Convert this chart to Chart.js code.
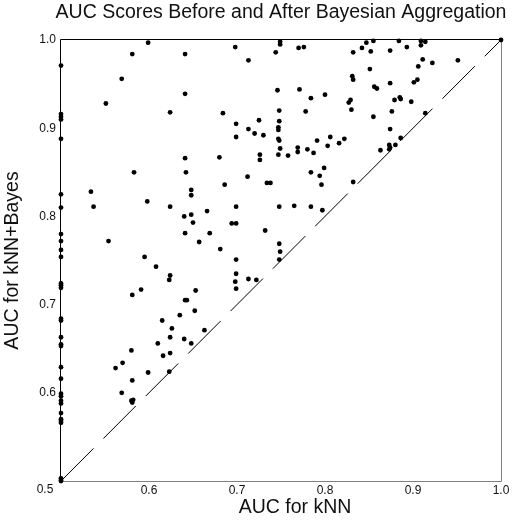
<!DOCTYPE html>
<html>
<head>
<meta charset="utf-8">
<title>AUC Scores Before and After Bayesian Aggregation</title>
<script src="https://cdn.jsdelivr.net/npm/chart.js@4.4.1/dist/chart.umd.min.js"></script>
<style>
    html, body { margin: 0; padding: 0; background: #fff; }
    #wrap { width: 513px; height: 529px; }
</style>
</head>
<body>
<div id="wrap"><canvas id="aucChart" width="513" height="529"></canvas></div>
<script>
var chartTitle = "AUC Scores Before and After Bayesian Aggregation";
var xTitle = "AUC for kNN";
var yTitle = "AUC for kNN+Bayes";

// AUC for kNN (x) and AUC for kNN+Bayes (y), one entry per dataset
var knnAuc = [
    // on the 0.5 floor
    0.5, 0.5, 0.5, 0.5, 0.5, 0.5, 0.5, 0.5, 0.5, 0.5, 0.5, 0.5, 0.5, 0.5, 0.5, 0.5,
    0.5, 0.5, 0.5, 0.5, 0.5, 0.5, 0.5, 0.5, 0.5, 0.5, 0.5, 0.5, 0.5, 0.5, 0.5, 0.5,
    // upper left
    0.599, 0.581, 0.641, 0.569, 0.641, 0.551, 0.624, 0.641, 0.583, 0.642, 0.648,
    // upper middle
    0.698, 0.749, 0.749, 0.744, 0.770, 0.776, 0.713, 0.746, 0.771, 0.784, 0.800,
    0.684, 0.748, 0.778, 0.725, 0.748, 0.699, 0.713, 0.747, 0.747, 0.720, 0.730,
    0.699, 0.747, 0.748, 0.791, 0.806, 0.822, 0.816, 0.803, 0.769, 0.769, 0.780,
    0.787, 0.749, 0.747, 0.758, 0.726, 0.726, 0.680, 0.784, 0.799, 0.794, 0.712,
    0.734, 0.738, 0.796, 0.686,
    // upper right
    1.0, 0.832, 0.842, 0.847, 0.855, 0.852, 0.874, 0.884, 0.893, 0.909, 0.914,
    0.909, 0.911, 0.922, 0.951, 0.906, 0.851, 0.831, 0.832, 0.905, 0.901, 0.874,
    0.856, 0.859, 0.829, 0.827, 0.830, 0.879, 0.885, 0.886, 0.898, 0.876, 0.855,
    0.874, 0.886, 0.880, 0.873, 0.873, 0.874, 0.863, 0.914, 0.832,
    // middle left
    0.534, 0.537, 0.554, 0.598, 0.624, 0.648, 0.640, 0.648, 0.650, 0.641, 0.657,
    0.595, 0.608, 0.624, 0.623, 0.591, 0.581, 0.653, 0.641, 0.643, 0.635, 0.652,
    0.615, 0.626, 0.624, 0.640,
    // centre
    0.699, 0.748, 0.765, 0.784, 0.797, 0.666, 0.694, 0.699, 0.732, 0.669, 0.681,
    0.748, 0.749, 0.748, 0.699, 0.699, 0.698, 0.699, 0.713, 0.722, 0.663,
    // lower left
    0.580, 0.570, 0.562, 0.610, 0.648, 0.616, 0.624, 0.599, 0.623, 0.581, 0.569,
    0.580, 0.582, 0.581
];

var bayesAuc = [
    0.971, 0.916, 0.913, 0.910, 0.888, 0.825, 0.810, 0.780, 0.772, 0.762, 0.754, 0.724,
    0.722, 0.719, 0.684, 0.682, 0.663, 0.655, 0.653, 0.629, 0.616, 0.599, 0.596, 0.591,
    0.588, 0.577, 0.570, 0.568, 0.566, 0.503, 0.501, 0.500,

    0.997, 0.984, 0.984, 0.956, 0.939, 0.928, 0.918, 0.866, 0.850, 0.850, 0.824,

    0.992, 0.998, 0.995, 0.986, 0.991, 0.992, 0.977, 0.943, 0.944, 0.934, 0.938,
    0.917, 0.920, 0.919, 0.909, 0.908, 0.905, 0.899, 0.901, 0.898, 0.894, 0.892,
    0.890, 0.888, 0.886, 0.886, 0.890, 0.888, 0.883, 0.880, 0.878, 0.873, 0.876,
    0.872, 0.877, 0.870, 0.869, 0.870, 0.864, 0.867, 0.850, 0.855, 0.846, 0.845,
    0.838, 0.838, 0.836, 0.836,

    1.0, 0.986, 0.991, 0.997, 0.999, 0.987, 0.988, 0.999, 0.992, 0.999, 0.998,
    0.994, 0.978, 0.974, 0.977, 0.970, 0.967, 0.959, 0.955, 0.955, 0.952, 0.951,
    0.947, 0.945, 0.932, 0.929, 0.921, 0.932, 0.935, 0.933, 0.930, 0.919, 0.913,
    0.899, 0.889, 0.881, 0.881, 0.876, 0.878, 0.875, 0.917, 0.839,

    0.828, 0.811, 0.772, 0.817, 0.811, 0.830, 0.800, 0.802, 0.793, 0.781, 0.771,
    0.754, 0.743, 0.733, 0.728, 0.717, 0.711, 0.716, 0.705, 0.705, 0.688, 0.693,
    0.682, 0.673, 0.663, 0.661,

    0.811, 0.811, 0.812, 0.811, 0.807, 0.806, 0.792, 0.792, 0.784, 0.781, 0.763,
    0.769, 0.760, 0.751, 0.751, 0.735, 0.726, 0.718, 0.729, 0.728, 0.671,

    0.648, 0.634, 0.628, 0.656, 0.656, 0.642, 0.645, 0.623, 0.624, 0.614, 0.600,
    0.591, 0.592, 0.589
];

var tickValues = [0.5, 0.6, 0.7, 0.8, 0.9, 1.0];
var tickLabels = ["0.5", "0.6", "0.7", "0.8", "0.9", "1.0"];
var diagonalEnds = [0.5, 1.0];

var fontFamily = "'Liberation Sans', Arial, Helvetica, sans-serif";
var textColor = "#111";

var points = knnAuc.map(function (x, i) {
    return { x: x, y: bayesAuc[i] };
});
var diagonal = diagonalEnds.map(function (v) {
    return { x: v, y: v };
});

function useTickValues(scale) {
    scale.ticks = tickValues.map(function (v) {
        return { value: v };
    });
}

function tickText(value) {
    // the shared "0.5" in the corner is drawn by the plugin below
    if (value === tickValues[0]) return "";
    return tickLabels[tickValues.indexOf(value)];
}

// box around the plot, main title, x title and the corner "0.5" label
var framePlugin = {
    id: "frame",
    beforeDatasetsDraw: function (chart) {
        var a = chart.chartArea;
        var ctx = chart.ctx;
        ctx.save();
        ctx.lineWidth = 1;
        ctx.strokeStyle = "#000";
        ctx.beginPath();
        ctx.moveTo(a.left - 0.5, a.bottom);
        ctx.lineTo(a.left - 0.5, a.top - 0.5);
        ctx.lineTo(a.right, a.top - 0.5);
        ctx.stroke();
        ctx.strokeStyle = "#808080";
        ctx.beginPath();
        ctx.moveTo(a.right + 0.5, a.top - 0.5);
        ctx.lineTo(a.right + 0.5, a.bottom + 0.5);
        ctx.lineTo(a.left - 0.5, a.bottom + 0.5);
        ctx.stroke();
        ctx.restore();
    },
    afterDraw: function (chart) {
        var a = chart.chartArea;
        var ctx = chart.ctx;
        var x = chart.scales.x;
        var mid = (a.left + a.right) / 2;
        ctx.save();
        ctx.fillStyle = textColor;
        ctx.textAlign = "center";
        ctx.textBaseline = "middle";
        ctx.font = "19.5px " + fontFamily;
        ctx.fillText(chartTitle, mid, 13);
        ctx.fillText(xTitle, mid + 14, a.bottom + 27);
        ctx.font = "12px " + fontFamily;
        ctx.fillText(tickLabels[0], x.getPixelForValue(tickValues[0]) - 16, a.bottom + 9);
        ctx.restore();
    }
};

var ctx = document.getElementById("aucChart").getContext("2d");
var aucChart = new Chart(ctx, {
    type: "scatter",
    data: {
        datasets: [
            {
                label: "datasets",
                data: points,
                pointRadius: 2.4,
                pointHoverRadius: 2.4,
                pointBorderWidth: 0,
                pointBackgroundColor: "#000",
                backgroundColor: "#000",
                clip: false
            },
            {
                label: "y = x",
                data: diagonal,
                showLine: true,
                borderColor: "#000",
                borderWidth: 1,
                borderDash: [46, 14],
                pointRadius: 0,
                fill: false
            }
        ]
    },
    options: {
        responsive: false,
        animation: false,
        layout: {
            padding: { top: 40, right: 12, bottom: 0, left: 0 }
        },
        plugins: {
            legend: { display: false },
            tooltip: { enabled: false },
            title: { display: false }
        },
        scales: {
            x: {
                type: "linear",
                min: 0.5,
                max: 1.0,
                afterBuildTicks: useTickValues,
                afterFit: function (scale) {
                    scale.height = 48;
                },
                grid: { display: false, drawTicks: false },
                border: { display: false },
                ticks: {
                    padding: 2,
                    color: textColor,
                    font: { family: fontFamily, size: 12 },
                    maxRotation: 0,
                    autoSkip: false,
                    callback: tickText
                },
                title: { display: false }
            },
            y: {
                type: "linear",
                min: 0.5,
                max: 1.0,
                afterBuildTicks: useTickValues,
                afterFit: function (scale) {
                    scale.width = 61;
                },
                grid: { display: false, drawTicks: false },
                border: { display: false },
                ticks: {
                    padding: 5,
                    color: textColor,
                    font: { family: fontFamily, size: 12 },
                    autoSkip: false,
                    callback: tickText
                },
                title: {
                    display: true,
                    text: yTitle,
                    color: textColor,
                    font: { family: fontFamily, size: 19.5 },
                    padding: { top: 1, bottom: 0 }
                }
            }
        }
    },
    plugins: [framePlugin]
});
</script>
</body>
</html>
